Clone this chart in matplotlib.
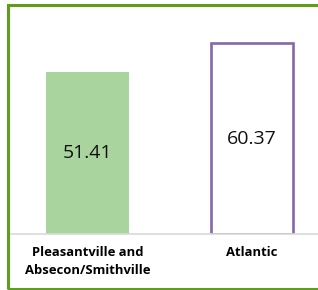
import matplotlib.pyplot as plt
from matplotlib.patches import Rectangle

categories = ["Pleasantville and\nAbsecon/Smithville", "Atlantic"]
values = [51.41, 60.37]
labels = ["51.41", "60.37"]

W, H = 318, 290
fig = plt.figure(figsize=(W / 100, H / 100), dpi=100)

# outer green frame (right side runs past the image edge)
fig.patches.append(Rectangle((8 / W, 1 / H), 1.0, 284 / H, transform=fig.transFigure,
                             fill=False, edgecolor="#5f9e1c", linewidth=2.2))

# axes: baseline at y=234 px, left at x=10 px, right at image edge
ax = fig.add_axes([10 / W, (H - 234) / H, (W - 10) / W, (234 - 13) / H])
x = [0, 1]
ax.bar(x[0], values[0], width=0.505, color="#a9d49e", edgecolor="none")
ax.bar(x[1], values[1], width=0.495, color="white", edgecolor="#8567aa", linewidth=1.9)

for xi, v, t in zip(x, values, labels):
    ax.text(xi, v / 2, t, ha="center", va="center", fontsize=14,
            family="Open Sans", color="#111111")

ax.set_xlim(-0.471, 1.401)
ax.set_ylim(0, 70)
ax.set_xticks(x)
ax.set_xticklabels(categories, fontsize=9.4, fontweight="bold", family="Open Sans",
                   linespacing=1.45)
ax.tick_params(axis="x", length=0, pad=9)
ax.set_yticks([])
for s in ["top", "right", "left"]:
    ax.spines[s].set_visible(False)
ax.spines["bottom"].set_color("#d9d9d9")
ax.spines["bottom"].set_linewidth(1.2)
ax.patch.set_alpha(0)

fig.savefig("out.png", dpi=100)
